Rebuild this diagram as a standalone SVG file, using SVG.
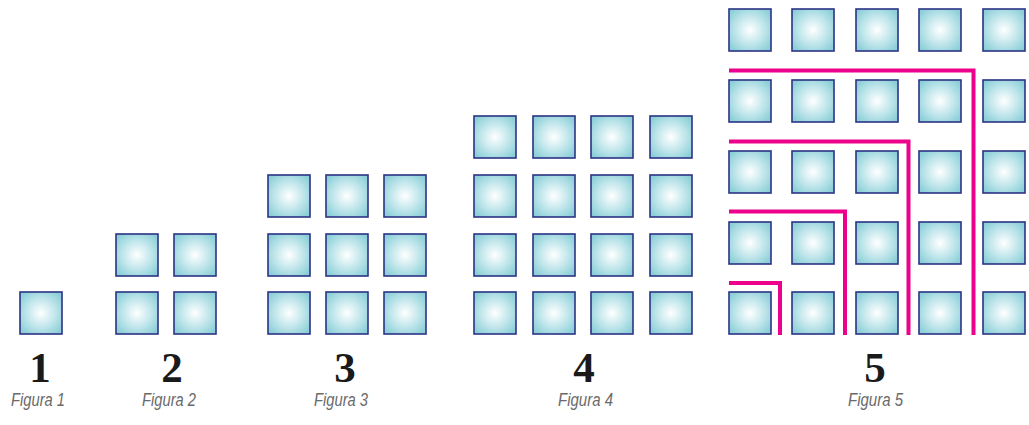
<svg xmlns="http://www.w3.org/2000/svg" width="1029" height="425" viewBox="0 0 1029 425">
<style>
.sq{fill:url(#g);stroke:#2b3384;stroke-width:1.6}
.num{font-family:"Liberation Serif",serif;font-weight:bold;font-size:43px;fill:#1a1a1a;text-anchor:middle}
.lab{font-family:"Liberation Sans",sans-serif;font-style:italic;font-size:18px;fill:#6a6a6a}
.ln{fill:none;stroke:#ec008c;stroke-width:4;stroke-linecap:butt;stroke-linejoin:miter}
</style>
<defs>
<radialGradient id="g" cx="0.5" cy="0.5" r="0.62">
<stop offset="0" stop-color="#ffffff"/>
<stop offset="0.55" stop-color="#c0e6eb"/>
<stop offset="1" stop-color="#8ccfd8"/>
</radialGradient>
<rect id="s" class="sq" width="42" height="42"/>
</defs>
<rect width="1029" height="425" fill="#fff"/>
<g id="fig1">
<use href="#s" x="20" y="292"/>
<text class="num" x="40" y="382">1</text>
<text class="lab" x="11" y="406" textLength="54" lengthAdjust="spacingAndGlyphs">Figura 1</text>
</g>
<g id="fig2">
<use href="#s" x="116" y="234"/><use href="#s" x="174" y="234"/>
<use href="#s" x="116" y="292"/><use href="#s" x="174" y="292"/>
<text class="num" x="172" y="382">2</text>
<text class="lab" x="142" y="406" textLength="54" lengthAdjust="spacingAndGlyphs">Figura 2</text>
</g>
<g id="fig3">
<use href="#s" x="268" y="175"/><use href="#s" x="326" y="175"/><use href="#s" x="384" y="175"/>
<use href="#s" x="268" y="234"/><use href="#s" x="326" y="234"/><use href="#s" x="384" y="234"/>
<use href="#s" x="268" y="292"/><use href="#s" x="326" y="292"/><use href="#s" x="384" y="292"/>
<text class="num" x="345" y="382">3</text>
<text class="lab" x="314" y="406" textLength="54" lengthAdjust="spacingAndGlyphs">Figura 3</text>
</g>
<g id="fig4">
<use href="#s" x="474" y="116"/><use href="#s" x="533" y="116"/><use href="#s" x="591" y="116"/><use href="#s" x="650" y="116"/>
<use href="#s" x="474" y="175"/><use href="#s" x="533" y="175"/><use href="#s" x="591" y="175"/><use href="#s" x="650" y="175"/>
<use href="#s" x="474" y="234"/><use href="#s" x="533" y="234"/><use href="#s" x="591" y="234"/><use href="#s" x="650" y="234"/>
<use href="#s" x="474" y="292"/><use href="#s" x="533" y="292"/><use href="#s" x="591" y="292"/><use href="#s" x="650" y="292"/>
<text class="num" x="584" y="382">4</text>
<text class="lab" x="558" y="406" textLength="55" lengthAdjust="spacingAndGlyphs">Figura 4</text>
</g>
<g id="fig5">
<use href="#s" x="729" y="9"/><use href="#s" x="792" y="9"/><use href="#s" x="856" y="9"/><use href="#s" x="919" y="9"/><use href="#s" x="983" y="9"/>
<use href="#s" x="729" y="80"/><use href="#s" x="792" y="80"/><use href="#s" x="856" y="80"/><use href="#s" x="919" y="80"/><use href="#s" x="983" y="80"/>
<use href="#s" x="729" y="151"/><use href="#s" x="792" y="151"/><use href="#s" x="856" y="151"/><use href="#s" x="919" y="151"/><use href="#s" x="983" y="151"/>
<use href="#s" x="729" y="222"/><use href="#s" x="792" y="222"/><use href="#s" x="856" y="222"/><use href="#s" x="919" y="222"/><use href="#s" x="983" y="222"/>
<use href="#s" x="729" y="292"/><use href="#s" x="792" y="292"/><use href="#s" x="856" y="292"/><use href="#s" x="919" y="292"/><use href="#s" x="983" y="292"/>
<text class="num" x="875" y="382">5</text>
<text class="lab" x="848" y="406" textLength="55" lengthAdjust="spacingAndGlyphs">Figura 5</text>
</g>
<g id="connectors">
<path class="ln" d="M729,70.5 H973.5 V335"/>
<path class="ln" d="M729,141.5 H908.5 V335"/>
<path class="ln" d="M729,211.5 H845 V335"/>
<path class="ln" d="M729,283 H780 V335"/>
</g>
</svg>
